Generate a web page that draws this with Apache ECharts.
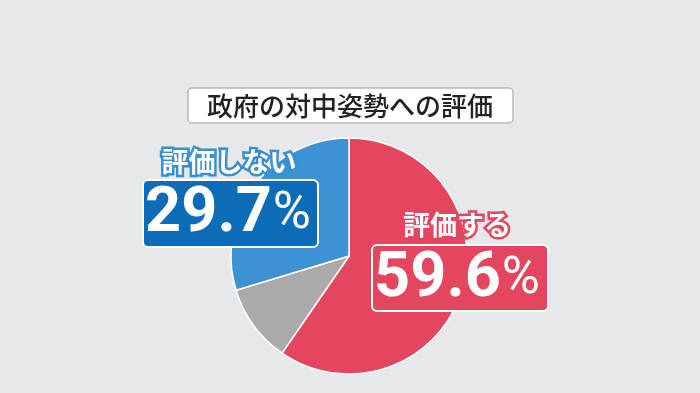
<!DOCTYPE html>
<html>
<head>
<meta charset="utf-8">
<script src="https://cdn.jsdelivr.net/npm/echarts@6/dist/echarts.min.js"></script>
<style>
html,body{margin:0;padding:0;background:#e6e8e9;}
#main{width:700px;height:393px;}
</style>
</head>
<body>
<div id="main"></div>
<script>
var title = '政府の対中姿勢への評価';
var categories = ['評価する', 'その他', '評価しない'];
var values = [59.6, 10.7, 29.7];
var colors = ['#e4455f', '#aaaaaa', '#3d92d3'];

var JP = '"Noto Sans CJK JP", "Noto Sans", sans-serif';
var NUM = 'Roboto, "Noto Sans", sans-serif';
var chart = echarts.init(document.getElementById('main'));

function pctText(v) {
  return '{n|' + v.toFixed(1) + '}{p|%}';
}
var pctRich = {
  n: {fontSize: 63, fontWeight: 'bold', fontFamily: NUM, fill: '#ffffff', color: '#ffffff'},
  p: {fontSize: 52, fontWeight: 'normal', fontFamily: NUM, fill: '#ffffff', color: '#ffffff', padding: [0, 0, 0, 1]}
};

chart.setOption({
  backgroundColor: '#e6e8e9',
  animation: false,
  series: [{
    type: 'pie',
    center: [349, 256],
    radius: 118,
    startAngle: 90,
    clockwise: true,
    label: {show: false},
    labelLine: {show: false},
    itemStyle: {borderColor: '#ffffff', borderWidth: 1.5},
    emphasis: {disabled: true},
    data: categories.map(function (c, i) {
      return {name: c, value: values[i], itemStyle: {color: colors[i]}};
    })
  }],
  graphic: [
    {type: 'rect', shape: {x: 188, y: 88, width: 325, height: 35, r: 4},
     style: {fill: '#ffffff', stroke: '#b8b8b8', lineWidth: 1.5}, z: 10},
    {type: 'text', x: 350, y: 106, z: 11,
     style: {text: title, font: '500 26px ' + JP, fill: '#222222', align: 'center', verticalAlign: 'middle'}},

    // 評価しない
    {type: 'text', x: 229, y: 162, z: 11,
     style: {text: categories[2], font: 'bold 27px ' + JP, fill: '#ffffff', stroke: '#3a8fd0', lineWidth: 5,
             align: 'center', verticalAlign: 'middle'}},
    {type: 'rect', shape: {x: 143, y: 180, width: 175, height: 67, r: 5},
     style: {fill: '#0d6cb8', stroke: '#ffffff', lineWidth: 2}, z: 10},
    {type: 'text', x: 228, y: 215, z: 11,
     style: {text: pctText(values[2]), rich: pctRich, align: 'center', verticalAlign: 'middle'}},

    // 評価する
    {type: 'text', x: 457, y: 225, z: 11,
     style: {text: categories[0], font: 'bold 27px ' + JP, fill: '#ffffff', stroke: '#e4455f', lineWidth: 5,
             align: 'center', verticalAlign: 'middle'}},
    {type: 'rect', shape: {x: 372, y: 245, width: 176, height: 66, r: 5},
     style: {fill: '#e4455f', stroke: '#ffffff', lineWidth: 2}, z: 10},
    {type: 'text', x: 457, y: 280, z: 11,
     style: {text: pctText(values[0]), rich: pctRich, align: 'center', verticalAlign: 'middle'}}
  ]
});
</script>
</body>
</html>
